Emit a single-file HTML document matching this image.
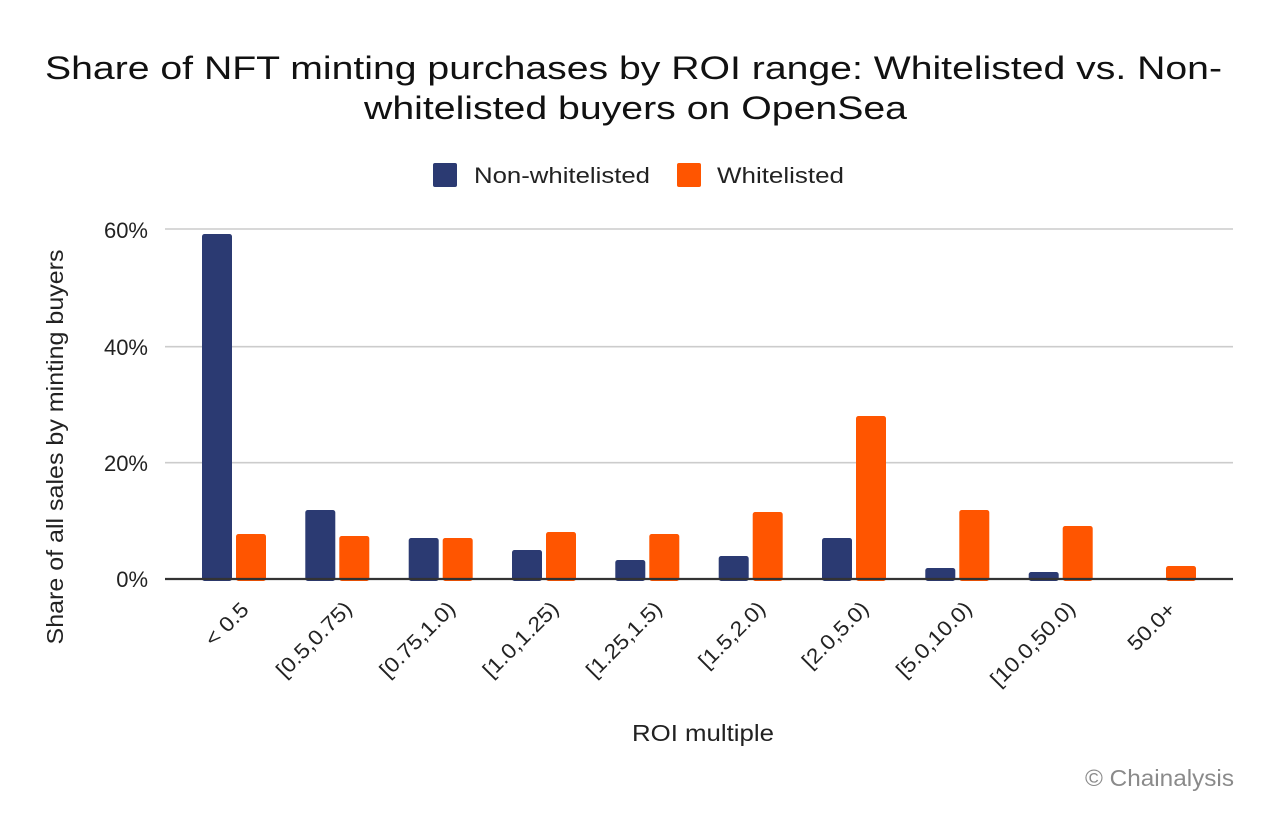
<!DOCTYPE html>
<html>
<head>
<meta charset="utf-8">
<style>
  html, body { margin: 0; padding: 0; background: #ffffff; }
  body { width: 1272px; height: 818px; overflow: hidden; }
  svg { display: block; }
  text { font-family: "Liberation Sans", "DejaVu Sans", sans-serif; }
</style>
</head>
<body>
<svg width="1272" height="818" viewBox="0 0 1272 818" xmlns="http://www.w3.org/2000/svg">
  <rect x="0" y="0" width="1272" height="818" fill="#ffffff"/>

  <!-- Title -->
  <text x="45" y="79" font-size="32" fill="#111" textLength="1177" lengthAdjust="spacingAndGlyphs">Share of NFT minting purchases by ROI range: Whitelisted vs. Non-</text>
  <text x="364" y="119" font-size="32" fill="#111" textLength="543" lengthAdjust="spacingAndGlyphs">whitelisted buyers on OpenSea</text>

  <!-- Legend -->
  <rect x="433" y="163" width="24" height="24" rx="2" fill="#2b3a72"/>
  <text x="474" y="183" font-size="22" fill="#222" textLength="176" lengthAdjust="spacingAndGlyphs">Non-whitelisted</text>
  <rect x="677" y="163" width="24" height="24" rx="2" fill="#ff5500"/>
  <text x="717" y="183" font-size="22" fill="#222" textLength="127" lengthAdjust="spacingAndGlyphs">Whitelisted</text>

  <!-- Gridlines -->
  <line x1="165" y1="229" x2="1233" y2="229" stroke="#cccccc" stroke-width="1.6"/>
  <line x1="165" y1="346.7" x2="1233" y2="346.7" stroke="#cccccc" stroke-width="1.6"/>
  <line x1="165" y1="462.7" x2="1233" y2="462.7" stroke="#cccccc" stroke-width="1.6"/>

  <!-- Y tick labels -->
  <g font-size="22" fill="#222" text-anchor="end">
    <text x="148" y="238">60%</text>
    <text x="148" y="355">40%</text>
    <text x="148" y="471">20%</text>
    <text x="148" y="587">0%</text>
  </g>

  <!-- Y axis title -->
  <text transform="translate(63,447) rotate(-90)" x="0" y="0" font-size="23" fill="#222" text-anchor="middle" textLength="395" lengthAdjust="spacingAndGlyphs">Share of all sales by minting buyers</text>

  <!-- Bars: navy -->
  <g fill="#2b3a72">
    <rect x="202" y="234" width="30" height="347" rx="2.5"/>
    <rect x="305.3" y="510" width="30" height="71" rx="2.5"/>
    <rect x="408.7" y="538" width="30" height="43" rx="2.5"/>
    <rect x="512" y="550" width="30" height="31" rx="2.5"/>
    <rect x="615.3" y="560" width="30" height="21" rx="2.5"/>
    <rect x="718.7" y="556" width="30" height="25" rx="2.5"/>
    <rect x="822" y="538" width="30" height="43" rx="2.5"/>
    <rect x="925.3" y="568" width="30" height="13" rx="2.5"/>
    <rect x="1028.7" y="572" width="30" height="9" rx="2.5"/>
  </g>
  <!-- Bars: orange -->
  <g fill="#ff5500">
    <rect x="236" y="534" width="30" height="47" rx="2.5"/>
    <rect x="339.3" y="536" width="30" height="45" rx="2.5"/>
    <rect x="442.7" y="538" width="30" height="43" rx="2.5"/>
    <rect x="546" y="532" width="30" height="49" rx="2.5"/>
    <rect x="649.3" y="534" width="30" height="47" rx="2.5"/>
    <rect x="752.7" y="512" width="30" height="69" rx="2.5"/>
    <rect x="856" y="416" width="30" height="165" rx="2.5"/>
    <rect x="959.3" y="510" width="30" height="71" rx="2.5"/>
    <rect x="1062.7" y="526" width="30" height="55" rx="2.5"/>
    <rect x="1166" y="566" width="30" height="15" rx="2.5"/>
  </g>

  <!-- Baseline -->
  <line x1="165" y1="579" x2="1233" y2="579" stroke="#333333" stroke-width="2.2"/>

  <!-- X tick labels -->
  <g font-size="21" fill="#222" text-anchor="end">
    <text transform="translate(250,611) rotate(-45)" textLength="51.8" lengthAdjust="spacingAndGlyphs">&lt; 0.5</text>
    <text transform="translate(353.3,610) rotate(-45)" textLength="97.2" lengthAdjust="spacingAndGlyphs">[0.5,0.75)</text>
    <text transform="translate(456.7,610) rotate(-45)" textLength="97.2" lengthAdjust="spacingAndGlyphs">[0.75,1.0)</text>
    <text transform="translate(560,610) rotate(-45)" textLength="97.2" lengthAdjust="spacingAndGlyphs">[1.0,1.25)</text>
    <text transform="translate(663.3,610) rotate(-45)" textLength="97.2" lengthAdjust="spacingAndGlyphs">[1.25,1.5)</text>
    <text transform="translate(766.7,610) rotate(-45)" textLength="84.4" lengthAdjust="spacingAndGlyphs">[1.5,2.0)</text>
    <text transform="translate(870,610) rotate(-45)" textLength="84.4" lengthAdjust="spacingAndGlyphs">[2.0,5.0)</text>
    <text transform="translate(973.3,610) rotate(-45)" textLength="97.2" lengthAdjust="spacingAndGlyphs">[5.0,10.0)</text>
    <text transform="translate(1076.7,610) rotate(-45)" textLength="110" lengthAdjust="spacingAndGlyphs">[10.0,50.0)</text>
    <text transform="translate(1177,611) rotate(-45)" textLength="58" lengthAdjust="spacingAndGlyphs">50.0+</text>
  </g>

  <!-- X axis title -->
  <text x="632" y="741" font-size="23" fill="#222" textLength="142" lengthAdjust="spacingAndGlyphs">ROI multiple</text>

  <!-- Copyright -->
  <text x="1085" y="786" font-size="23" fill="#8a8a8a" textLength="149" lengthAdjust="spacingAndGlyphs">© Chainalysis</text>
</svg>
</body>
</html>
